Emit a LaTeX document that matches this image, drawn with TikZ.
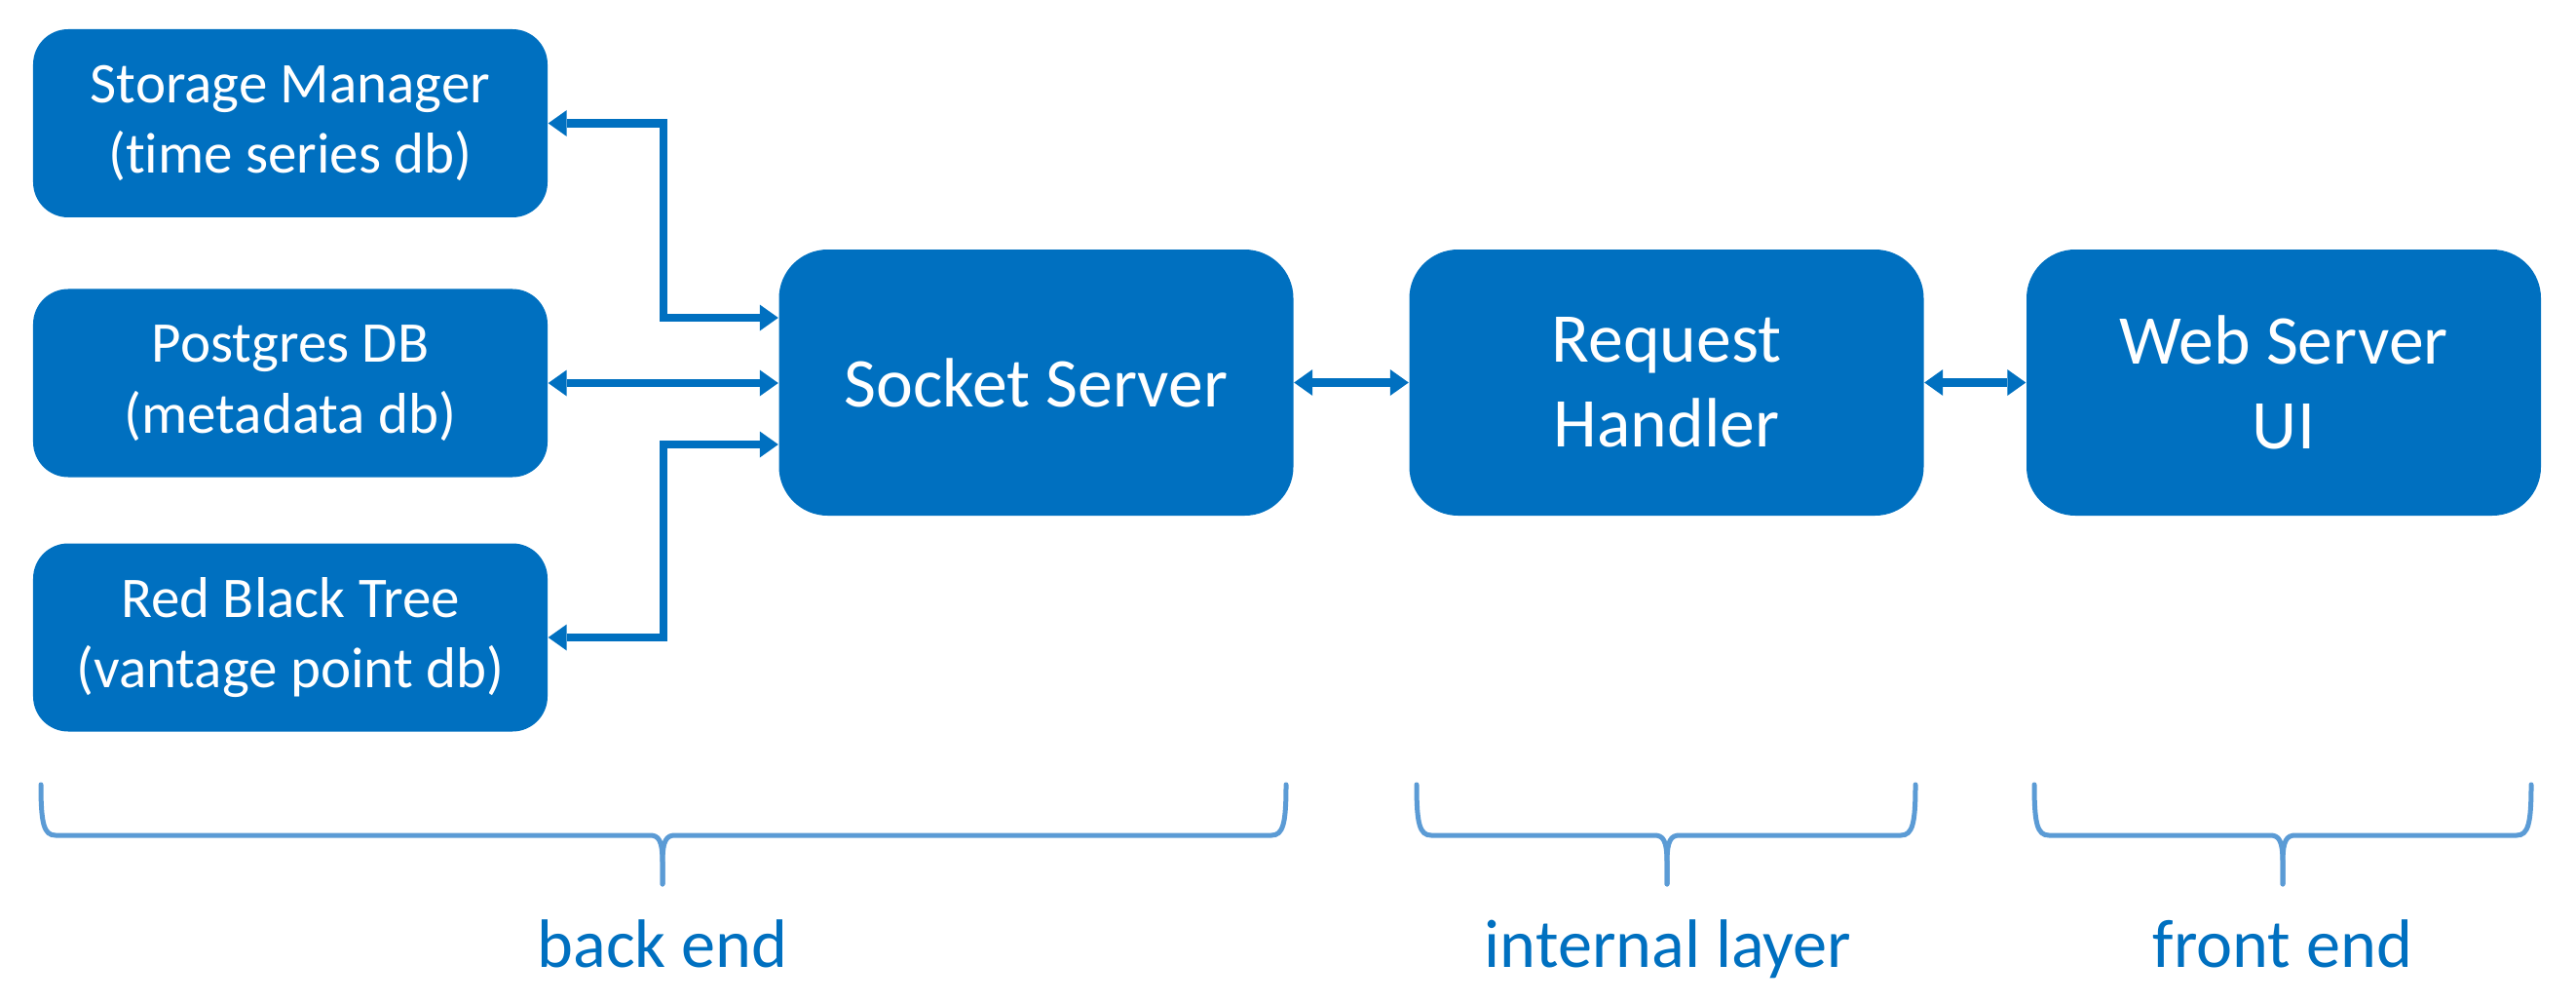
\documentclass[tikz,border=0pt]{standalone}
\usepackage{fontspec}
\setmainfont{Carlito}[Ligatures=NoCommon]
\usetikzlibrary{arrows.meta}
\definecolor{boxblue}{HTML}{0070C0}
\definecolor{bracecol}{HTML}{5B9BD5}
\newcommand\layerbrace[3]{%
  \draw[brace] (#1,-8.05) .. controls (#1,-8.45) and ({#1+0.03},-8.57) .. ({#1+0.15},-8.57)
    -- ({#2-0.13},-8.57) .. controls ({#2-0.04},-8.57) and (#2,-8.62) .. (#2,-8.85) -- (#2,-9.07);
  \draw[brace] (#2,-9.07) -- (#2,-8.85) .. controls (#2,-8.62) and ({#2+0.04},-8.57) .. ({#2+0.13},-8.57)
    -- ({#3-0.15},-8.57) .. controls ({#3-0.03},-8.57) and (#3,-8.45) .. (#3,-8.05);
}
\begin{document}
\begin{tikzpicture}[x=1cm,y=1cm,
  smallbox/.style={fill=boxblue, rounded corners=0.36cm, minimum width=5.28cm, minimum height=1.93cm,
    text=white, align=center, font=\fontsize{16.8}{20.6}\selectfont, inner sep=0pt},
  bigbox/.style={fill=boxblue, rounded corners=0.5cm, minimum width=5.28cm, minimum height=2.73cm,
    text=white, align=center, font=\fontsize{20.4}{24.9}\selectfont, inner sep=0pt},
  conn/.style={draw=boxblue, line width=0.087cm,
    {Triangle[length=0.19cm,width=0.27cm,line width=0pt]}-{Triangle[length=0.19cm,width=0.27cm,line width=0pt]}},
  brace/.style={draw=bracecol, line width=0.05cm, line cap=round},
  layerlabel/.style={text=boxblue, font=\fontsize{20}{24}\selectfont, anchor=base, inner sep=0pt}]
\useasboundingbox (0,0) rectangle (26.44,-10.28);

\node[smallbox] (sm) at (2.98,-1.265) {Storage Manager\\(time series db)};
\node[smallbox] (pg) at (2.98,-3.93) {Postgres DB\\(metadata db)};
\node[smallbox] (rb) at (2.98,-6.54) {Red Black Tree\\(vantage point db)};

\node[bigbox] (ss) at (10.635,-3.925) {Socket Server};
\node[bigbox] (rh) at (17.105,-3.925) {Request\\Handler};
\node[bigbox] (ws) at (23.44,-3.925) {Web Server\\UI};

\coordinate (jx) at (6.81,0);
\coordinate (ssT) at ([yshift=0.665cm]ss.west);
\coordinate (ssB) at ([yshift=-0.635cm]ss.west);

\draw[conn] (sm.east) -| (jx |- ssT) -- (ssT);
\draw[conn] (pg.east) -- (pg.east -| ss.west);
\draw[conn] (rb.east) -| (jx |- ssB) -- (ssB);
\draw[conn] (ss.east) -- (rh.west);
\draw[conn] (rh.east) -- (ws.west);

\layerbrace{0.42}{6.80}{13.20}
\layerbrace{14.54}{17.11}{19.66}
\layerbrace{20.88}{23.43}{25.98}

\node[layerlabel] (lb) at (6.80,-9.92) {back end};
\node[layerlabel] (li) at (17.12,-9.92) {internal layer};
\node[layerlabel] (lf) at (23.43,-9.92) {front end};
\end{tikzpicture}
\end{document}
